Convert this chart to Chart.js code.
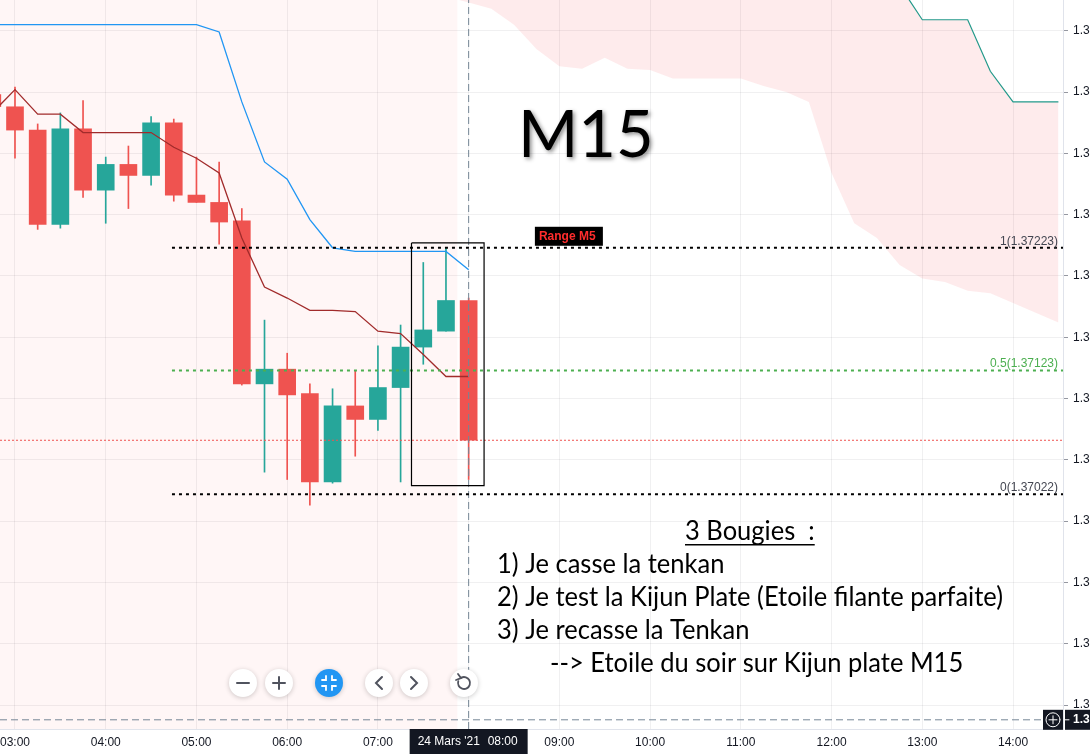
<!DOCTYPE html>
<html>
<head>
<meta charset="utf-8">
<script src="https://cdn.jsdelivr.net/npm/chart.js@4.4.1/dist/chart.umd.min.js"></script>
<style>
  html, body { margin: 0; padding: 0; background: #fff; }
  #wrap { width: 1090px; height: 754px; }
</style>
</head>
<body>
<div id="wrap"><canvas id="graphique" width="1090" height="754"></canvas></div>
<script>
// bougies M15 du 24 mars 21, heure en heures décimales
const heures = [2.75, 3, 3.25, 3.5, 3.75, 4, 4.25, 4.5, 4.75, 5, 5.25, 5.5, 5.75, 6, 6.25, 6.5, 6.75, 7, 7.25, 7.5, 7.75, 8];
const ouvertures = [1.37348, 1.37338, 1.37319, 1.37242, 1.37320, 1.37270, 1.37291, 1.37282, 1.37325, 1.37266, 1.37260, 1.37245, 1.37112, 1.37124, 1.37104, 1.37032, 1.37094, 1.37083, 1.37109, 1.37142, 1.37155, 1.37180];
const plusHauts = [1.37356, 1.37354, 1.37324, 1.37333, 1.37343, 1.37297, 1.37306, 1.37330, 1.37328, 1.37297, 1.37293, 1.37255, 1.37164, 1.37137, 1.37112, 1.37108, 1.37123, 1.37143, 1.37160, 1.37211, 1.37223, 1.37182];
const plusBas = [1.37334, 1.37296, 1.37238, 1.37239, 1.37264, 1.37243, 1.37255, 1.37274, 1.37261, 1.37260, 1.37226, 1.37111, 1.37040, 1.37034, 1.37013, 1.37031, 1.37053, 1.37074, 1.37032, 1.37128, 1.37155, 1.37034];
const clotures = [1.37338, 1.37319, 1.37242, 1.37320, 1.37270, 1.37291, 1.37282, 1.37325, 1.37266, 1.37260, 1.37244, 1.37112, 1.37124, 1.37103, 1.37032, 1.37094, 1.37083, 1.37109, 1.37142, 1.37156, 1.37180, 1.37066];

// ichimoku
const tenkan = [1.37333, 1.37352, 1.37332, 1.37332, 1.37317, 1.37317, 1.37317, 1.37317, 1.37305, 1.37296, 1.37284, 1.37231, 1.37191, 1.37182, 1.37172, 1.37172, 1.37171, 1.37155, 1.37153, 1.37136, 1.37118, 1.37118];
const kijun = [1.37405, 1.37405, 1.37405, 1.37405, 1.37405, 1.37405, 1.37405, 1.37405, 1.37405, 1.37405, 1.37399, 1.37342, 1.37293, 1.37279, 1.37246, 1.37223, 1.37220, 1.37220, 1.37220, 1.37220, 1.37220, 1.37205];
const heuresNuage = [7.75, 8, 8.25, 8.5, 8.75, 9, 9.25, 9.5, 9.75, 10, 10.25, 10.5, 10.75, 11, 11.25, 11.5, 11.75, 12, 12.25, 12.5, 12.75, 13, 13.25, 13.5, 13.75, 14, 14.25, 14.5];
const nuageBas = [1.37428, 1.37423, 1.37418, 1.37405, 1.37385, 1.37371, 1.37369, 1.37378, 1.37369, 1.37368, 1.37361, 1.37361, 1.37361, 1.37361, 1.37355, 1.37350, 1.37342, 1.37284, 1.37243, 1.37231, 1.37209, 1.37198, 1.37195, 1.37188, 1.37186, 1.37178, 1.37170, 1.37162];
const nuageHaut = [1.3750, 1.3750, 1.3750, 1.3750, 1.3750, 1.3750, 1.3750, 1.3750, 1.3750, 1.3750, 1.3750, 1.3750, 1.3750, 1.3750, 1.3750, 1.3750, 1.3750, 1.3750, 1.3750, 1.3750, 1.37437, 1.37409, 1.37409, 1.37409, 1.37367, 1.37342, 1.37342, 1.37342];

// range M5 (fibo)
const niveauxRange = [1.37223, 1.37123, 1.37022];
const nomsNiveaux = ["1", "0.5", "0"];
const debutRange = 4.73;
const boiteRange = { x0: 7.37, x1: 8.17, haut: 1.37227, bas: 1.37029 };
const prixActuel = 1.37066;
const prixCurseur = 1.36838;
const heureCurseur = 8;
const finSession = 7.875;

const ticksX = [3, 4, 5, 6, 7, 8, 9, 10, 11, 12, 13, 14];
const labelsX = ["03:00", "04:00", "05:00", "06:00", "07:00", "08:00", "09:00", "10:00", "11:00", "12:00", "13:00", "14:00"];
const ticksY = [1.3685, 1.369, 1.3695, 1.37, 1.3705, 1.371, 1.3715, 1.372, 1.3725, 1.373, 1.3735, 1.374];

const xMin = 2.8347, xMax = 14.5507;
const yMin = 1.368305, yMax = 1.374251;

const vert = "#26a69a", rouge = "#ef5350";
const couleurs = clotures.map((c, i) => c >= ouvertures[i] ? vert : rouge);
const pts = (xs, ys) => xs.map((x, i) => ({ x: x, y: ys[i] }));
const horiz = (y, x0, x1) => [{ x: x0, y: y }, { x: x1, y: y }];
const police = "'Liberation Sans', Arial, sans-serif";

const ligne = (data, couleur, epaisseur, tirets, ordre) => ({
  type: "line", data: data, borderColor: couleur, borderWidth: epaisseur,
  borderDash: tirets || [], pointRadius: 0, tension: 0, fill: false, order: ordre
});

// pas de marge automatique autour des axes
const sansMarge = (s, cote, taille) => {
  s[cote] = taille;
  s.paddingTop = 0; s.paddingBottom = 0; s.paddingLeft = 0; s.paddingRight = 0;
};

const habillage = {
  id: "habillage",
  beforeDraw(chart) {
    const { ctx, chartArea: a, scales: { x } } = chart;
    ctx.save();
    ctx.fillStyle = "#fff";
    ctx.fillRect(0, 0, chart.width, chart.height);
    ctx.fillStyle = "rgba(255,82,82,0.05)";
    ctx.fillRect(a.left, a.top, x.getPixelForValue(finSession) - a.left, a.bottom - a.top);
    ctx.restore();
  },
  afterDraw(chart) {
    const { ctx, chartArea: a, scales: { x, y } } = chart;
    ctx.save();

    // étiquettes des niveaux
    ctx.font = "12px " + police;
    ctx.textAlign = "right";
    ctx.textBaseline = "alphabetic";
    niveauxRange.forEach((v, i) => {
      ctx.fillStyle = i === 1 ? "#4caf50" : "#434651";
      ctx.fillText(nomsNiveaux[i] + "(" + v.toFixed(5) + ")", a.right - 5, y.getPixelForValue(v) - 3);
    });

    // Range M5
    const rx = x.getPixelForValue(8.73), ry = y.getPixelForValue(niveauxRange[0]);
    ctx.fillStyle = "#000";
    ctx.fillRect(rx, ry - 21, 68, 19);
    ctx.fillStyle = "#ff2d2d";
    ctx.font = "bold 12px " + police;
    ctx.textAlign = "left";
    ctx.textBaseline = "middle";
    ctx.fillText("Range M5", rx + 4, ry - 11);

    // M15
    ctx.save();
    ctx.font = "65px Lato, 'Open Sans', sans-serif";
    ctx.textBaseline = "alphabetic";
    ctx.shadowColor = "rgba(0,0,0,0.45)";
    ctx.shadowBlur = 4;
    ctx.shadowOffsetX = 2;
    ctx.shadowOffsetY = 2;
    ctx.fillStyle = "#000";
    ctx.fillText("M15", 518, 157);
    ctx.restore();

    // commentaire
    const lignes = [
      ["1) Je casse la tenkan", 497, 573],
      ["2) Je test la Kijun Plate (Etoile filante parfaite)", 497, 606],
      ["3) Je recasse la Tenkan", 497, 639],
      ["--> Etoile du soir sur Kijun plate M15", 550, 672]
    ];
    ctx.font = "26px Lato, 'Open Sans', sans-serif";
    ctx.fillStyle = "#000";
    ctx.textAlign = "left";
    ctx.textBaseline = "alphabetic";
    const sx = 506 / ctx.measureText(lignes[1][0]).width;
    const ecrire = (t, px, py) => {
      ctx.save();
      ctx.translate(px, py);
      ctx.scale(sx, 1);
      ctx.fillText(t, 0, 0);
      ctx.restore();
      return ctx.measureText(t).width * sx;
    };
    const w = ecrire("3 Bougies  :", 685, 540);
    ctx.fillRect(685, 544, w, 1.5);
    lignes.forEach(l => ecrire(l[0], l[1], l[2]));

    // boutons de navigation
    const by = 683;
    const bouton = (cx, bleu) => {
      ctx.save();
      ctx.shadowColor = "rgba(0,0,0,0.2)";
      ctx.shadowBlur = 5;
      ctx.shadowOffsetY = 1;
      ctx.fillStyle = bleu ? "#2196f3" : "#fff";
      ctx.beginPath();
      ctx.arc(cx, by, 14, 0, Math.PI * 2);
      ctx.fill();
      ctx.restore();
    };
    [243, 279, 329, 379, 414, 464].forEach((cx, i) => bouton(cx, i === 2));
    ctx.strokeStyle = "#50535e";
    ctx.lineWidth = 2;
    ctx.lineCap = "round";
    ctx.beginPath();
    ctx.moveTo(237, by); ctx.lineTo(249, by);
    ctx.moveTo(273, by); ctx.lineTo(285, by);
    ctx.moveTo(279, by - 6); ctx.lineTo(279, by + 6);
    ctx.moveTo(382, by - 6); ctx.lineTo(376, by); ctx.lineTo(382, by + 6);
    ctx.moveTo(411, by - 6); ctx.lineTo(417, by); ctx.lineTo(411, by + 6);
    ctx.stroke();
    ctx.lineWidth = 1.8;
    ctx.beginPath();
    ctx.arc(464, by, 6, -Math.PI * 0.65, Math.PI * 1.1);
    ctx.stroke();
    ctx.beginPath();
    ctx.moveTo(458, by - 9); ctx.lineTo(461, by - 5); ctx.lineTo(456, by - 3);
    ctx.stroke();
    ctx.strokeStyle = "#fff";
    ctx.beginPath();
    [[-1, -1], [1, -1], [-1, 1], [1, 1]].forEach(([dx, dy]) => {
      ctx.moveTo(329 + dx * 7, by + dy * 3);
      ctx.lineTo(329 + dx * 3, by + dy * 3);
      ctx.lineTo(329 + dx * 3, by + dy * 7);
    });
    ctx.stroke();

    // étiquette du curseur (temps)
    const cx = x.getPixelForValue(heureCurseur);
    ctx.fillStyle = "#131722";
    ctx.fillRect(cx - 59, a.bottom, 118, chart.height - a.bottom);
    ctx.fillStyle = "#fff";
    ctx.font = "12px " + police;
    ctx.textAlign = "left";
    ctx.textBaseline = "middle";
    ctx.fillText("24 Mars '21", cx - 51, a.bottom + 13);
    ctx.fillText(labelsX[ticksX.indexOf(heureCurseur)], cx + 19, a.bottom + 13);

    // étiquette du curseur (prix)
    const cy = y.getPixelForValue(prixCurseur);
    ctx.fillStyle = "#131722";
    ctx.fillRect(a.right - 20, cy - 10, 20, 20);
    ctx.fillRect(a.right + 2, cy - 10, chart.width - a.right, 20);
    ctx.strokeStyle = "#fff";
    ctx.lineWidth = 1;
    ctx.beginPath();
    ctx.arc(a.right - 10, cy, 7, 0, Math.PI * 2);
    ctx.moveTo(a.right - 14, cy); ctx.lineTo(a.right - 6, cy);
    ctx.moveTo(a.right - 10, cy - 4); ctx.lineTo(a.right - 10, cy + 4);
    ctx.stroke();
    ctx.beginPath();
    ctx.moveTo(a.right + 2, cy); ctx.lineTo(a.right + 6, cy);
    ctx.stroke();
    ctx.fillStyle = "#fff";
    ctx.font = "bold 12px " + police;
    ctx.fillText(prixCurseur.toFixed(5), a.right + 10, cy);
    ctx.restore();
  }
};

new Chart(document.getElementById("graphique"), {
  type: "line",
  data: {
    datasets: [
      { type: "line", data: pts(heuresNuage, nuageBas), borderWidth: 0, borderColor: "rgba(0,0,0,0)", pointRadius: 0, tension: 0, fill: false, order: 10 },
      { type: "line", data: pts(heuresNuage, nuageHaut), borderColor: "#22998a", borderWidth: 1.2, pointRadius: 0, tension: 0,
        fill: "-1", backgroundColor: "rgba(242,54,69,0.1)", order: 9 },
      { type: "bar", data: heures.map((h, i) => ({ x: h, y: [plusBas[i], plusHauts[i]] })), backgroundColor: couleurs,
        barThickness: 1, grouped: false, borderWidth: 0, order: 6 },
      { type: "bar", data: heures.map((h, i) => ({ x: h, y: [ouvertures[i], clotures[i]] })), backgroundColor: couleurs,
        barThickness: 17, grouped: false, borderWidth: 0, order: 5 },
      ligne(pts(heures, kijun), "#2196f3", 1.3, null, 3),
      ligne(pts(heures, tenkan), "#a12b2b", 1.3, null, 3),
      ligne(horiz(prixActuel, xMin, xMax), rouge, 1, [2, 2], 2),
      ligne(horiz(niveauxRange[0], debutRange, xMax), "#000", 2, [3, 4], 1),
      ligne(horiz(niveauxRange[1], debutRange, xMax), "#4caf50", 2, [3, 4], 1),
      ligne(horiz(niveauxRange[2], debutRange, xMax), "#000", 2, [3, 4], 1),
      ligne([{ x: heureCurseur, y: yMin }, { x: heureCurseur, y: yMax }], "#758696", 1, [7, 4], 1),
      ligne(horiz(prixCurseur, xMin, 14.33), "#758696", 1, [7, 4], 1),
      ligne([
        { x: boiteRange.x0, y: boiteRange.haut }, { x: boiteRange.x1, y: boiteRange.haut },
        { x: boiteRange.x1, y: boiteRange.bas }, { x: boiteRange.x0, y: boiteRange.bas },
        { x: boiteRange.x0, y: boiteRange.haut }
      ], "#000", 1.2, null, 0)
    ]
  },
  options: {
    responsive: false,
    animation: false,
    events: [],
    layout: { padding: 0 },
    plugins: {
      legend: { display: false },
      tooltip: { enabled: false }
    },
    scales: {
      x: {
        type: "linear",
        min: xMin,
        max: xMax,
        offset: false,
        afterFit: s => sansMarge(s, "height", 25),
        afterBuildTicks: s => { s.ticks = ticksX.map(v => ({ value: v })); },
        grid: { color: "rgba(42,46,57,0.07)", drawTicks: false, offset: false },
        border: { color: "#e0e3eb" },
        ticks: {
          autoSkip: false, maxRotation: 0, padding: 6,
          color: "#131722", font: { size: 12, family: police },
          callback: v => v === heureCurseur ? "" : labelsX[ticksX.indexOf(v)]
        }
      },
      y: {
        type: "linear",
        position: "right",
        min: yMin,
        max: yMax,
        afterFit: s => sansMarge(s, "width", 27),
        afterBuildTicks: s => { s.ticks = ticksY.map(v => ({ value: v })); },
        grid: { color: "rgba(42,46,57,0.07)", tickLength: 5, tickColor: "#9598a1" },
        border: { color: "#e0e3eb" },
        ticks: {
          autoSkip: false, padding: 5,
          color: "#131722", font: { size: 12, family: police },
          callback: v => v.toFixed(5)
        }
      }
    }
  },
  plugins: [habillage]
});
</script>
</body>
</html>
